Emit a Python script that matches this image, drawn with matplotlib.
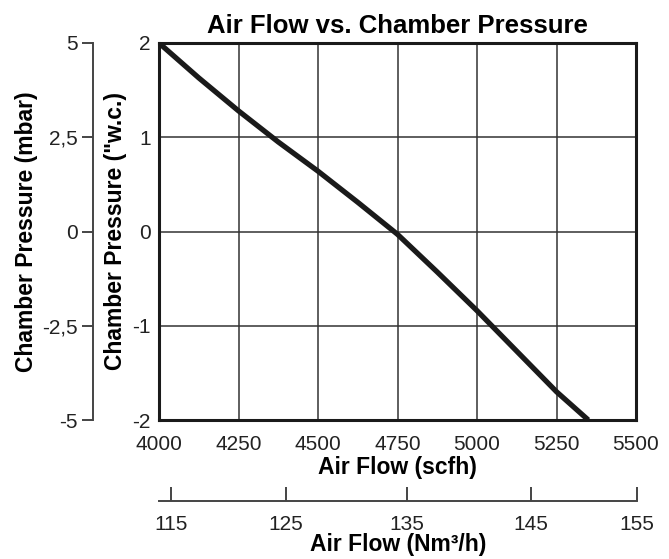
import matplotlib.pyplot as plt

plt.rcParams['font.family'] = ['Liberation Sans', 'DejaVu Sans']
plt.rcParams['axes.unicode_minus'] = False

# данные кривой (scfh, "w.c.)
flow_scfh = [4000, 4125, 4250, 4375, 4500, 4625, 4750, 4875, 5000, 5125, 5250, 5350]
pressure_wc = [2.0, 1.63, 1.28, 0.95, 0.64, 0.31, -0.03, -0.43, -0.84, -1.27, -1.70, -2.0]

x_ticks = [4000, 4250, 4500, 4750, 5000, 5250, 5500]
y_ticks = [-2, -1, 0, 1, 2]

mbar_ticks = [-5, -2.5, 0, 2.5, 5]
mbar_labels = ['-5', '-2,5', '0', '2,5', '5']

nm3_labels = ['115', '125', '135', '145', '155']
nm3_pos = [4037, 4398, 4777, 5167, 5500]  # положение в scfh

W, H = 669, 559
fig = plt.figure(figsize=(W / 100, H / 100), dpi=100)

TICK = 15
LAB = 16.5

L, R, T, B = 159, 636, 43, 420
ax = fig.add_axes([L / W, 1 - B / H, (R - L) / W, (B - T) / H])
ax.plot(flow_scfh, pressure_wc, color='#1a1a1a', lw=3.8, solid_capstyle='butt')
ax.set_xlim(4000, 5500)
ax.set_ylim(-2, 2)
ax.set_xticks(x_ticks)
ax.set_yticks(y_ticks)
ax.grid(True, color='#333333', lw=1.1)
ax.tick_params(length=0, labelsize=TICK, colors='#222222')
ax.tick_params(axis='x', pad=11)
ax.tick_params(axis='y', pad=6)
for s in ax.spines.values():
    s.set_linewidth(2.2)
    s.set_color('#1a1a1a')
ax.set_xlabel('Air Flow (scfh)', fontsize=LAB, fontweight='bold', labelpad=1)
ax.set_ylabel('Chamber Pressure ("w.c.)', fontsize=LAB, fontweight='bold', labelpad=4)
ax.set_title('Air Flow vs. Chamber Pressure', fontsize=18.5, fontweight='bold', pad=7)

# ось mbar слева
ax2 = fig.add_axes([93 / W, 1 - B / H, 0.0001, (B - T) / H])
ax2.set_ylim(-5, 5)
ax2.set_yticks(mbar_ticks)
ax2.set_yticklabels(mbar_labels)
ax2.set_xticks([])
for k in ['top', 'right', 'bottom']:
    ax2.spines[k].set_visible(False)
ax2.spines['left'].set_color('#444444')
ax2.spines['left'].set_linewidth(1.4)
ax2.tick_params(axis='y', length=8, width=1.4, color='#444444', labelsize=TICK, pad=3, labelcolor='#222222')
ax2.set_ylabel('Chamber Pressure (mbar)', fontsize=LAB, fontweight='bold', labelpad=3)
ax2.patch.set_visible(False)

# ось Nm3/h снизу
ax3 = fig.add_axes([L / W, 1 - 501 / H, (R - L + 1) / W, 0.0001])
ax3.set_xlim(4000, 5500)
ax3.set_xticks(nm3_pos)
ax3.set_xticklabels(nm3_labels)
ax3.set_yticks([])
for k in ['top', 'right', 'left']:
    ax3.spines[k].set_visible(False)
ax3.spines['bottom'].set_color('#444444')
ax3.spines['bottom'].set_linewidth(1.4)
ax3.tick_params(axis='x', direction='in', length=10, width=1.4, color='#444444', labelsize=TICK, pad=10, labelcolor='#222222')
ax3.set_xlabel('Air Flow (Nm³/h)', fontsize=LAB, fontweight='bold', labelpad=-1)
ax3.patch.set_visible(False)

fig.savefig('out.png', dpi=100)
